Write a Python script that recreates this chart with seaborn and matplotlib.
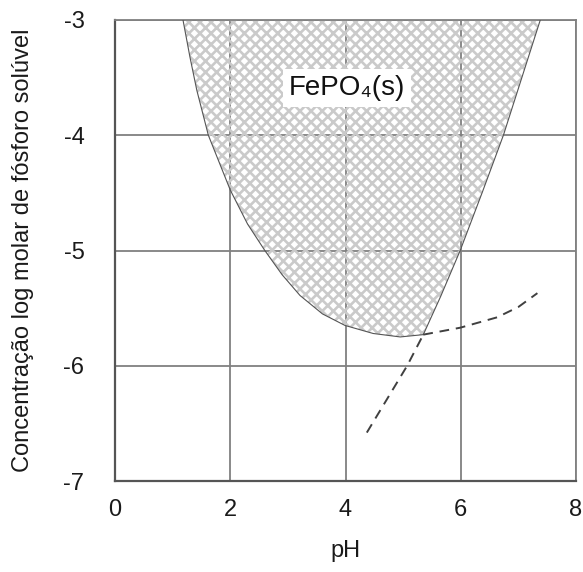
import matplotlib
matplotlib.use("Agg")
import matplotlib.pyplot as plt
import seaborn as sns
import pandas as pd

# Boundary of the FePO4(s) region (pH, log molar concentration)
boundary_ph = [1.18, 1.30, 1.42, 1.62, 2.0, 2.3, 2.6, 2.9, 3.21, 3.6, 3.99, 4.48, 4.95, 5.35, 5.65, 5.99, 6.37, 6.74, 7.06, 7.38]
boundary_log = [-3.0, -3.32, -3.61, -4.0, -4.475, -4.77, -5.0, -5.21, -5.39, -5.55, -5.65, -5.72, -5.75, -5.73, -5.40, -5.0, -4.5, -4.0, -3.5, -3.0]

# Dashed lines
dash1_ph = [5.35, 5.99, 6.63, 7.0, 7.33]
dash1_log = [-5.73, -5.67, -5.58, -5.49, -5.37]
dash2_ph = [4.37, 5.07, 5.35]
dash2_log = [-6.58, -6.0, -5.73]

x_ticks = [0, 2, 4, 6, 8]
y_ticks = [-7, -6, -5, -4, -3]

sns.set_theme(style="white")
plt.rcParams['font.family'] = ['Liberation Sans', 'DejaVu Sans']
plt.rcParams['hatch.linewidth'] = 1.9

fig = plt.figure(figsize=(5.83, 5.72), dpi=100)
ax = fig.add_axes([115/583, 1 - 481/572, 461/583, 461/572])

ax.set_xlim(0, 8)
ax.set_ylim(-7, -3)
ax.set_xticks(x_ticks)
ax.set_yticks(y_ticks)
ax.set_xticklabels([str(v) for v in x_ticks])
ax.set_yticklabels([str(v) for v in y_ticks])
ax.grid(True, color='#808080', linewidth=1.3)
ax.set_axisbelow(True)
ax.tick_params(axis='both', length=0, labelsize=17, colors='#1a1a1a')
ax.tick_params(axis='y', pad=22)
ax.tick_params(axis='x', pad=13)

for side in ['top', 'right']:
    ax.spines[side].set_color('#808080')
    ax.spines[side].set_linewidth(1.3)
for side in ['left', 'bottom']:
    ax.spines[side].set_color('#555555')
    ax.spines[side].set_linewidth(1.6)

# Shaded region
ax.fill(boundary_ph, boundary_log, facecolor='none', edgecolor='#cacaca', hatch='xxx', linewidth=0, zorder=2)

bdf = pd.DataFrame({'pH': boundary_ph, 'logc': boundary_log})
sns.lineplot(data=bdf, x='pH', y='logc', sort=False, ax=ax, color='#555555', linewidth=0.8, zorder=3)

d1 = pd.DataFrame({'pH': dash1_ph, 'logc': dash1_log})
d2 = pd.DataFrame({'pH': dash2_ph, 'logc': dash2_log})
for d in (d1, d2):
    sns.lineplot(data=d, x='pH', y='logc', sort=False, ax=ax, color='#404040',
                 linewidth=1.4, dashes=False, linestyle=(0, (5, 3.5)), zorder=3)

ax.text(4.03, -3.59, 'FePO\u2084(s)', fontsize=20, ha='center', va='center', color='#111111',
        bbox=dict(facecolor='white', edgecolor='none', pad=4), zorder=4)

ax.set_xlabel('pH', fontsize=17, color='#1a1a1a', labelpad=14)
ax.set_ylabel('Concentração log molar de fósforo solúvel', fontsize=17, color='#1a1a1a')
ax.yaxis.set_label_coords(-0.175, 0.5)

fig.savefig('out.png', dpi=100)
